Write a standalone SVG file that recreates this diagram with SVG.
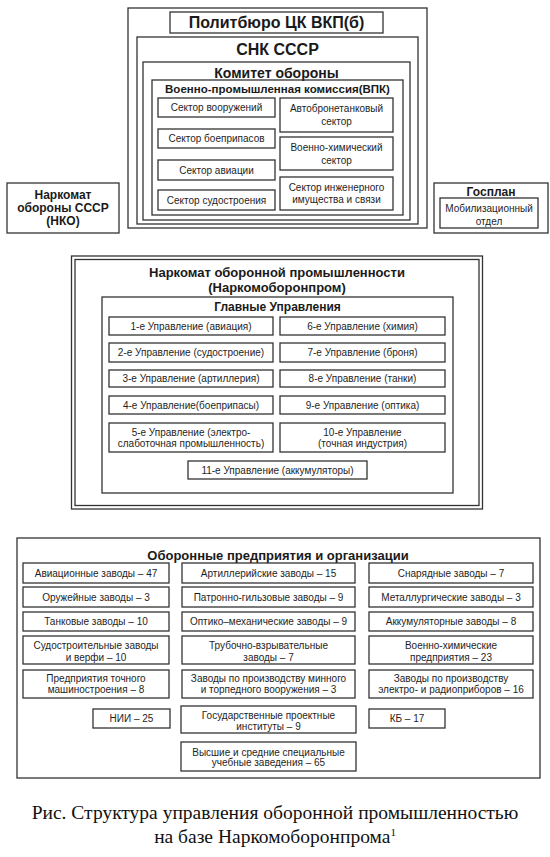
<svg xmlns="http://www.w3.org/2000/svg" width="550" height="857" viewBox="0 0 550 857">
<style>
.b{fill:#fff;stroke:#333;stroke-width:1.3}
.n{fill:none;stroke:#333;stroke-width:1.3}
.t{font-family:"Liberation Sans",Arial,sans-serif;font-size:10px;fill:#1e1e1e;text-anchor:middle}
.h{font-family:"Liberation Sans",Arial,sans-serif;font-weight:bold;fill:#1a1a1a;text-anchor:middle}
.c{font-family:"Liberation Serif","Times New Roman",serif;font-size:19.5px;fill:#111;text-anchor:middle}
</style>
<rect width="550" height="857" fill="#fff"/>
<g id="politburo">
<rect class="n" x="128" y="8" width="299" height="220"/>
<rect class="b" x="170" y="12" width="213" height="21"/>
<text class="h" x="276.5" y="28" font-size="16">Политбюро ЦК ВКП(б)</text>
</g>
<g id="snk">
<rect class="n" x="137" y="37" width="281" height="187"/>
<text class="h" x="277.5" y="55" font-size="16">СНК СССР</text>
</g>
<g id="komitet">
<rect class="n" x="143" y="62" width="267" height="158"/>
<text class="h" x="276.5" y="78" font-size="14">Комитет обороны</text>
</g>
<g id="vpk">
<rect class="n" x="152" y="80" width="251" height="135"/>
<text class="h" x="277.5" y="93" font-size="11.5">Военно-промышленная комиссия(ВПК)</text>
</g>
<g id="s1"><rect class="b" x="158" y="98" width="117" height="19"/><text class="t" x="216.5" y="111">Сектор вооружений</text></g>
<g id="s2"><rect class="b" x="158" y="129" width="117" height="19"/><text class="t" x="216.5" y="142">Сектор боеприпасов</text></g>
<g id="s3"><rect class="b" x="158" y="160" width="117" height="20"/><text class="t" x="216.5" y="173.5">Сектор авиации</text></g>
<g id="s4"><rect class="b" x="158" y="190" width="117" height="20"/><text class="t" x="216.5" y="203.5">Сектор судостроения</text></g>
<g id="s5"><rect class="b" x="280" y="98" width="113" height="34"/><text class="t" x="336.5" y="111.5">Автобронетанковый</text><text class="t" x="336.5" y="125">сектор</text></g>
<g id="s6"><rect class="b" x="280" y="137" width="113" height="33"/><text class="t" x="336.5" y="150.5">Военно-химический</text><text class="t" x="336.5" y="163.5">сектор</text></g>
<g id="s7"><rect class="b" x="280" y="177" width="113" height="33"/><text class="t" x="336.5" y="190.5">Сектор инженерного</text><text class="t" x="336.5" y="202.5">имущества и связи</text></g>
<g id="nko">
<rect class="b" x="7" y="183" width="112" height="50"/>
<text class="h" x="63" y="199" font-size="12">Наркомат</text>
<text class="h" x="63" y="212" font-size="12">обороны СССР</text>
<text class="h" x="63" y="224.5" font-size="12">(НКО)</text>
</g>
<g id="gosplan">
<rect class="b" x="434" y="183" width="114" height="50"/>
<text class="h" x="491" y="196" font-size="12">Госплан</text>
<rect class="b" x="440" y="198" width="98" height="30"/>
<text class="t" x="489" y="212" font-size="10.5">Мобилизационный</text>
<text class="t" x="489" y="224.5" font-size="10.5">отдел</text>
</g>
<g id="narkomoboronprom">
<rect class="n" x="71.5" y="256" width="411" height="253"/>
<rect class="n" x="75" y="259.5" width="404" height="246"/>
<text class="h" x="277" y="277" font-size="13">Наркомат оборонной промышленности</text>
<text class="h" x="277" y="292" font-size="13">(Наркомоборонпром)</text>
</g>
<g id="glavnye">
<rect class="n" x="102" y="297" width="351" height="196"/>
<text class="h" x="277.5" y="311" font-size="12">Главные Управления</text>
</g>
<g id="u1"><rect class="b" x="109" y="317" width="164" height="18"/><text class="t" x="191" y="329.5">1-е Управление (авиация)</text></g>
<g id="u2"><rect class="b" x="109" y="343" width="164" height="19"/><text class="t" x="191" y="356">2-е Управление (судостроение)</text></g>
<g id="u3"><rect class="b" x="109" y="370" width="164" height="17"/><text class="t" x="191" y="382">3-е Управление (артиллерия)</text></g>
<g id="u4"><rect class="b" x="109" y="396" width="164" height="18"/><text class="t" x="191" y="408.5">4-е Управление(боеприпасы)</text></g>
<g id="u5"><rect class="b" x="109" y="423" width="164" height="29"/><text class="t" x="191" y="435.5">5-е Управление (электро-</text><text class="t" x="191" y="446.5">слаботочная промышленность)</text></g>
<g id="u6"><rect class="b" x="280" y="317" width="165" height="18"/><text class="t" x="362.5" y="329.5">6-е Управление (химия)</text></g>
<g id="u7"><rect class="b" x="280" y="343" width="165" height="19"/><text class="t" x="362.5" y="356">7-е Управление (броня)</text></g>
<g id="u8"><rect class="b" x="280" y="370" width="165" height="17"/><text class="t" x="362.5" y="382">8-е Управление (танки)</text></g>
<g id="u9"><rect class="b" x="280" y="396" width="165" height="18"/><text class="t" x="362.5" y="408.5">9-е Управление (оптика)</text></g>
<g id="u10"><rect class="b" x="280" y="423" width="165" height="29"/><text class="t" x="362.5" y="435.5">10-е Управление</text><text class="t" x="362.5" y="446.5">(точная индустрия)</text></g>
<g id="u11"><rect class="b" x="188" y="461" width="179" height="18"/><text class="t" x="277.5" y="473.5">11-е Управление (аккумуляторы)</text></g>
<g id="predpriyatiya">
<rect class="n" x="17" y="538" width="523" height="240" stroke-width="1.8"/>
<text class="h" x="278" y="560" font-size="13">Оборонные предприятия и организации</text>
</g>
<g id="p1"><rect class="b" x="23" y="563" width="146" height="20"/><text class="t" x="96" y="576.5">Авиационные заводы – 47</text></g>
<g id="p2"><rect class="b" x="23" y="587" width="146" height="20"/><text class="t" x="96" y="600.5">Оружейные заводы – 3</text></g>
<g id="p3"><rect class="b" x="23" y="612" width="146" height="19"/><text class="t" x="96" y="625">Танковые заводы – 10</text></g>
<g id="p4"><rect class="b" x="23" y="636" width="146" height="28"/><text class="t" x="96" y="648.5">Судостроительные заводы</text><text class="t" x="96" y="660.5">и верфи – 10</text></g>
<g id="p5"><rect class="b" x="23" y="670" width="146" height="28"/><text class="t" x="96" y="681.5">Предприятия точного</text><text class="t" x="96" y="693">машиностроения – 8</text></g>
<g id="p6"><rect class="b" x="182" y="563" width="173" height="20"/><text class="t" x="268.5" y="576.5">Артиллерийские заводы – 15</text></g>
<g id="p7"><rect class="b" x="182" y="587" width="173" height="20"/><text class="t" x="268.5" y="600.5">Патронно-гильзовые заводы – 9</text></g>
<g id="p8"><rect class="b" x="182" y="612" width="173" height="19"/><text class="t" x="268.5" y="625">Оптико–механические заводы – 9</text></g>
<g id="p9"><rect class="b" x="182" y="636" width="173" height="28"/><text class="t" x="268.5" y="648.5">Трубочно-взрывательные</text><text class="t" x="268.5" y="660.5">заводы – 7</text></g>
<g id="p10"><rect class="b" x="182" y="670" width="173" height="28"/><text class="t" x="268.5" y="681.5">Заводы по производству минного</text><text class="t" x="268.5" y="693">и торпедного вооружения – 3</text></g>
<g id="p11"><rect class="b" x="369" y="563" width="164" height="20"/><text class="t" x="451" y="576.5">Снарядные заводы – 7</text></g>
<g id="p12"><rect class="b" x="369" y="587" width="164" height="20"/><text class="t" x="451" y="600.5">Металлургические заводы – 3</text></g>
<g id="p13"><rect class="b" x="369" y="612" width="164" height="19"/><text class="t" x="451" y="625">Аккумуляторные заводы – 8</text></g>
<g id="p14"><rect class="b" x="369" y="636" width="164" height="28"/><text class="t" x="451" y="648.5">Военно-химические</text><text class="t" x="451" y="660.5">предприятия – 23</text></g>
<g id="p15"><rect class="b" x="369" y="670" width="164" height="28"/><text class="t" x="451" y="681.5">Заводы по производству</text><text class="t" x="451" y="693">электро- и радиоприборов – 16</text></g>
<g id="p16"><rect class="b" x="93" y="709" width="77" height="19"/><text class="t" x="131.5" y="722">НИИ – 25</text></g>
<g id="p17"><rect class="b" x="181" y="706" width="175" height="27"/><text class="t" x="268.5" y="718.5">Государственные проектные</text><text class="t" x="268.5" y="729.5">институты – 9</text></g>
<g id="p18"><rect class="b" x="369" y="709" width="76" height="19"/><text class="t" x="407" y="722">КБ – 17</text></g>
<g id="p19"><rect class="b" x="181" y="742" width="175" height="29"/><text class="t" x="268.5" y="755.5">Высшие и средние специальные</text><text class="t" x="268.5" y="766">учебные заведения – 65</text></g>
<g id="connectors"></g>
<g id="caption">
<text class="c" x="275" y="819">Рис. Структура управления оборонной промышленностью</text>
<text class="c" x="275" y="843">на базе Наркомоборонпрома<tspan font-size="11" dy="-7">1</tspan></text>
</g>
</svg>
